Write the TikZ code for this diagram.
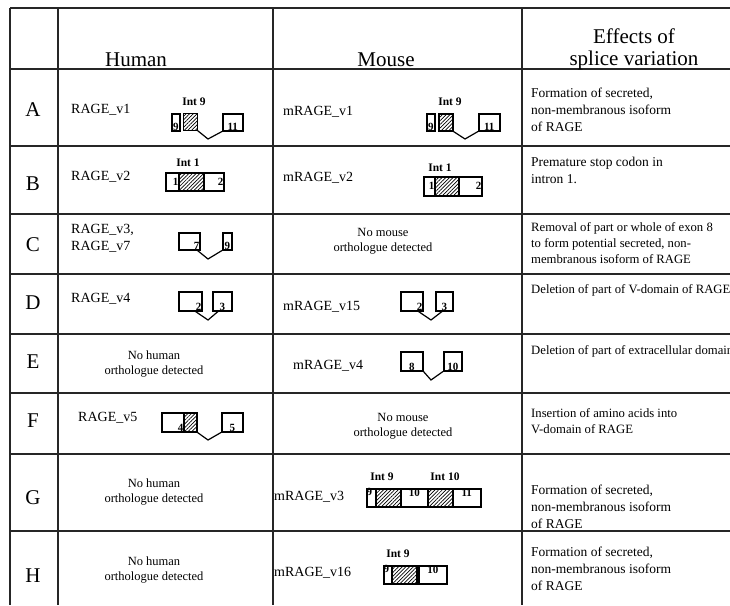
\documentclass[tikz,border=0pt]{standalone}
\usepackage{fontspec}
\setmainfont{Liberation Serif}
\usetikzlibrary{patterns.meta}

\begin{document}
\begin{tikzpicture}[x=1pt,y=-1pt,
  grid/.style={line width=1.1pt, black!85},
  head/.style={font=\fontsize{21}{22}\selectfont, inner sep=0pt, align=center},
  rowlab/.style={font=\fontsize{21}{21}\selectfont, inner sep=0pt},
  varname/.style={font=\fontsize{14}{17}\selectfont, anchor=west, inner sep=0pt, align=left},
  noortho/.style={font=\fontsize{12.5}{15}\selectfont, inner sep=0pt, align=center},
  effect/.style={font=\fontsize{13.5}{17}\selectfont, anchor=north west, inner sep=0pt, align=left},
  effsmall/.style={effect, font=\fontsize{12.7}{16}\selectfont},
  exon/.style={draw, line width=1.5pt, inner sep=0pt, anchor=north west, minimum height=18pt},
  intron/.style={exon, pattern={Lines[angle=45, distance=2.6pt, line width=0.7pt]}},
  exnum/.style={font=\bfseries\fontsize{11}{11}\selectfont, inner sep=1pt},
  intlab/.style={font=\bfseries\fontsize{11.5}{11.5}\selectfont, inner sep=0pt},
  splice/.style={line width=1.2pt}]
 \useasboundingbox (0,0) rectangle (730,605);
 \clip (0,0) rectangle (730,605);

 % table
 \draw[grid] (10,8) -- (730,8);
 \foreach \y in {69,146,214,274,334,393,454,531}
   \draw[grid] (10,\y) -- (730,\y);
 \foreach \x in {10,58,273,522}
   \draw[grid] (\x,8) -- (\x,605);

 \node[head] (hhum) at (136,60) {Human};
 \node[head] (hmou) at (386,60) {Mouse};
 \node[head] (heff) at (634,49) {Effects of\\splice variation};
 \foreach \l/\y in {A/110,B/184,C/245,D/303,E/362,F/421,G/498,H/576}
   \node[rowlab] (row\l) at (33,\y) {\l};

 % A
 \node[varname] (hAname) at (71,110) {RAGE\_v1};
 \node[intlab] (hAint) at (194,102) {Int 9};
 \node[exon, minimum width=8pt, minimum height=17pt] (hA9) at (171,113) {};
 \node[intron, minimum width=14pt, minimum height=17pt] (hAi) at (183,113) {};
 \node[exon, minimum width=20pt, minimum height=17pt] (hA11) at (222,113) {};
 \node[exnum, anchor=south] (hA9n) at (hA9.south) {9};
 \node[exnum, anchor=south] (hA11n) at (hA11.south) {11};
 \coordinate (hAv) at (208,139);
 \draw[splice] (hAi.south east) -- (hAv) -- (hA11.south west);

 \node[varname] (mAname) at (283,112) {mRAGE\_v1};
 \node[intlab] (mAint) at (450,102) {Int 9};
 \node[exon, minimum width=8pt, minimum height=17pt] (mA9) at (426,113) {};
 \node[intron, minimum width=14pt, minimum height=17pt] (mAi) at (438,113) {};
 \node[exon, minimum width=21pt, minimum height=17pt] (mA11) at (478,113) {};
 \node[exnum, anchor=south] (mA9n) at (mA9.south) {9};
 \node[exnum, anchor=south] (mA11n) at (mA11.south) {11};
 \coordinate (mAv) at (465,139);
 \draw[splice] (mAi.south east) -- (mAv) -- (mA11.south west);

 \node[effect] (eA) at (531,87.5) {Formation of secreted,\\non-membranous isoform\\of RAGE};

 % B
 \node[varname] (hBname) at (71,177) {RAGE\_v2};
 \node[intlab] (hBint) at (188,163) {Int 1};
 \node[exon, minimum width=13pt] (hB1) at (165,172) {};
 \node[intron, minimum width=25pt] (hBi) at (178,172) {};
 \node[exon, minimum width=20pt] (hB2) at (203,172) {};
 \node[exnum, anchor=east] (hB1n) at (hB1.east) {1};
 \node[exnum, anchor=east] (hB2n) at (hB2.east) {2};

 \node[varname] (mBname) at (283,178) {mRAGE\_v2};
 \node[intlab] (mBint) at (440,168) {Int 1};
 \node[exon, minimum width=11pt, minimum height=19pt] (mB1) at (423,176) {};
 \node[intron, minimum width=24pt, minimum height=19pt] (mBi) at (434,176) {};
 \node[exon, minimum width=23pt, minimum height=19pt] (mB2) at (458,176) {};
 \node[exnum, anchor=east] (mB1n) at (mB1.east) {1};
 \node[exnum, anchor=east] (mB2n) at (mB2.east) {2};

 \node[effect] (eB) at (531,156.5) {Premature stop codon in\\intron 1.};

 % C
 \node[varname] (hCname) at (71,238) {RAGE\_v3,\\RAGE\_v7};
 \node[exon, minimum width=21pt, minimum height=17pt] (hC7) at (178,232) {};
 \node[exon, minimum width=9pt, minimum height=17pt] (hC9) at (222,232) {};
 \node[exnum, anchor=south east] (hC7n) at (hC7.south east) {7};
 \node[exnum, anchor=south] (hC9n) at (hC9.south) {9};
 \coordinate (hCv) at (208,259);
 \draw[splice] ([xshift=-3pt]hC7.south east) -- (hCv) -- (hC9.south west);

 \node[noortho] (mCno) at (383,241) {No mouse\\orthologue detected};

 \node[effsmall] (eC) at (531,222.5) {Removal of part or whole of exon 8\\to form potential secreted, non-\\membranous isoform of RAGE};

 % D
 \node[varname] (hDname) at (71,299) {RAGE\_v4};
 \node[exon, minimum width=23pt, minimum height=19pt] (hD2) at (178,291) {};
 \node[exon, minimum width=19pt, minimum height=19pt] (hD3) at (212,291) {};
 \node[exnum, anchor=south east] (hD2n) at (hD2.south east) {2};
 \node[exnum, anchor=south] (hD3n) at (hD3.south) {3};
 \coordinate (hDv) at (208,320);
 \draw[splice] ([xshift=-7pt]hD2.south east) -- (hDv) -- ([xshift=6pt]hD3.south west);

 \node[varname] (mDname) at (283,307) {mRAGE\_v15};
 \node[exon, minimum width=22pt, minimum height=19pt] (mD2) at (400,291) {};
 \node[exon, minimum width=17pt, minimum height=19pt] (mD3) at (435,291) {};
 \node[exnum, anchor=south east] (mD2n) at (mD2.south east) {2};
 \node[exnum, anchor=south] (mD3n) at (mD3.south) {3};
 \coordinate (mDv) at (431,320);
 \draw[splice] ([xshift=-5pt]mD2.south east) -- (mDv) -- ([xshift=7pt]mD3.south west);

 \node[effsmall] (eD) at (531,284.5) {Deletion of part of V-domain of RAGE};

 % E
 \node[noortho] (hEno) at (154,364) {No human\\orthologue detected};

 \node[varname] (mEname) at (293,366) {mRAGE\_v4};
 \node[exon, minimum width=22pt, minimum height=19pt] (mE8) at (400,351) {};
 \node[exon, minimum width=18pt, minimum height=19pt] (mE10) at (443,351) {};
 \node[exnum, anchor=south] (mE8n) at (mE8.south) {8};
 \node[exnum, anchor=south] (mE10n) at (mE10.south) {10};
 \coordinate (mEv) at (431,380);
 \draw[splice] (mE8.south east) -- (mEv) -- (mE10.south west);

 \node[effsmall] (eE) at (531,345.5) {Deletion of part of extracellular domain};

 % F
 \node[varname] (hFname) at (78,418) {RAGE\_v5};
 \node[exon, minimum width=22pt, minimum height=19pt] (hF4) at (161,412) {};
 \node[intron, minimum width=13pt, minimum height=19pt] (hFi) at (183,412) {};
 \node[exon, minimum width=21pt, minimum height=19pt] (hF5) at (221,412) {};
 \node[exnum, anchor=south east] (hF4n) at (hF4.south east) {4};
 \node[exnum, anchor=south] (hF5n) at (hF5.south) {5};
 \coordinate (hFv) at (208,440);
 \draw[splice] (hFi.south east) -- (hFv) -- (hF5.south west);

 \node[noortho] (mFno) at (403,426) {No mouse\\orthologue detected};

 \node[effsmall] (eF) at (531,408.5) {Insertion of amino acids into\\V-domain of RAGE};

 % G
 \node[noortho] (hGno) at (154,492) {No human\\orthologue detected};

 \node[varname] (mGname) at (274,497) {mRAGE\_v3};
 \node[intlab] (mGint9) at (382,477) {Int 9};
 \node[intlab] (mGint10) at (445,477) {Int 10};
 \node[exon, minimum width=9pt] (mG9) at (366,488) {};
 \node[intron, minimum width=25pt] (mGi9) at (375,488) {};
 \node[exon, minimum width=27pt] (mG10) at (400,488) {};
 \node[intron, minimum width=25pt] (mGi10) at (427,488) {};
 \node[exon, minimum width=28pt] (mG11) at (452,488) {};
 \node[exnum, anchor=north west, inner sep=0.5pt] (mG9n) at (mG9.north west) {9};
 \node[exnum, anchor=north] (mG10n) at (mG10.north) {10};
 \node[exnum, anchor=north] (mG11n) at (mG11.north) {11};

 \node[effect] (eG) at (531,484.5) {Formation of secreted,\\non-membranous isoform\\of RAGE};

 % H
 \node[noortho] (hHno) at (154,570) {No human\\orthologue detected};

 \node[varname] (mHname) at (274,573) {mRAGE\_v16};
 \node[intlab] (mHint) at (398,554) {Int 9};
 \node[exon, minimum width=8pt] (mH9) at (383,565) {};
 \node[intron, minimum width=25pt] (mHi) at (391,565) {};
 \node[exon, minimum width=28pt] (mH10) at (418,565) {};
 \node[exnum, anchor=north west, inner sep=0.5pt] (mH9n) at (mH9.north west) {9};
 \node[exnum, anchor=north] (mH10n) at (mH10.north) {10};

 \node[effect] (eH) at (531,546.5) {Formation of secreted,\\non-membranous isoform\\of RAGE};
\end{tikzpicture}
\end{document}
